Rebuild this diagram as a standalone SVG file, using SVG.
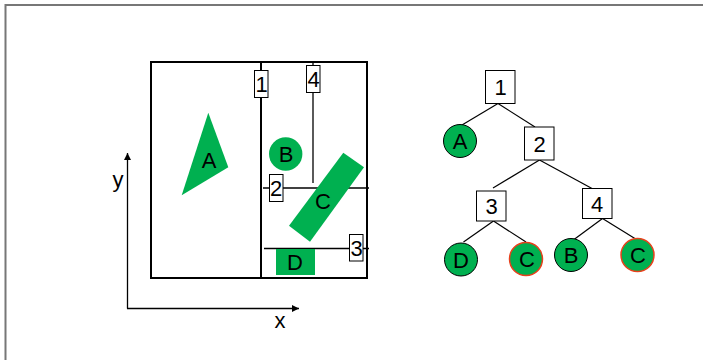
<svg xmlns="http://www.w3.org/2000/svg" width="703" height="360" viewBox="0 0 703 360">
<defs>
<style>
text{font-family:"Liberation Sans",Arial,sans-serif;font-size:22px;fill:#000;text-anchor:middle}
.g{fill:#00b050}
.thick{stroke:#000;stroke-width:2;fill:none}
.thin{stroke:#000;stroke-width:1.3;fill:none}
.lbl{fill:#fff;stroke:#000;stroke-width:1}
.node{fill:#fff;stroke:#000;stroke-width:1}
.leaf{fill:#00b050;stroke:#000;stroke-width:1}
.leafr{fill:#00b050;stroke:#e8401c;stroke-width:1.5}
.edge{stroke:#000;stroke-width:1.2}
</style>
<marker id="ah" viewBox="0 0 10 10" refX="10" refY="5" markerWidth="7" markerHeight="7" markerUnits="userSpaceOnUse" orient="auto">
<path d="M0,0 L10,5 L0,10 z" fill="#000"/>
</marker>
</defs>
<rect x="0" y="0" width="703" height="360" fill="#fff"/>
<path d="M5.5,370 V5 H710" fill="none" stroke="#777" stroke-width="2"/>

<g id="axes">
<line x1="127.5" y1="308.5" x2="127.5" y2="153" class="thin" marker-end="url(#ah)"/>
<line x1="127" y1="308.5" x2="299" y2="308.5" class="thin" marker-end="url(#ah)"/>
<text x="118" y="187">y</text>
<text x="280" y="328">x</text>
</g>

<g id="space">
<rect x="151" y="62" width="216" height="216" class="thick"/>
<line x1="261" y1="62" x2="261" y2="278" class="thick"/>
<line x1="313" y1="62" x2="313" y2="183" class="thin"/>
<line x1="263" y1="188" x2="369" y2="188" class="thin"/>
<line x1="264" y1="248.5" x2="369" y2="248.5" class="thin"/>
</g>

<g id="shapeA">
<polygon points="208.3,112.7 228.3,167.3 181.7,195.3" class="g"/>
<text x="209" y="168">A</text>
</g>
<g id="shapeB">
<circle cx="285.7" cy="154" r="16.7" class="g"/>
<text x="286" y="162">B</text>
</g>
<g id="shapeC">
<polygon points="343.3,152.7 364,167.3 310,241.7 289,225.7" class="g"/>
<text x="323" y="209">C</text>
</g>
<g id="shapeD">
<rect x="276" y="249" width="39" height="26" class="g"/>
<text x="295" y="270">D</text>
</g>

<g id="split1">
<rect x="254.5" y="70.5" width="13.5" height="27" class="lbl"/>
<text x="261.5" y="92">1</text>
</g>
<g id="split4">
<rect x="306.5" y="65.5" width="13.5" height="27" class="lbl"/>
<text x="313.5" y="87">4</text>
</g>
<g id="split2">
<rect x="269.5" y="174.5" width="13.5" height="27" class="lbl"/>
<text x="276" y="196">2</text>
</g>
<g id="split3">
<rect x="349.5" y="234.5" width="13.5" height="26.5" class="lbl"/>
<text x="356.5" y="256">3</text>
</g>

<g id="connectors">
<line x1="498" y1="103.5" x2="462" y2="125" class="edge"/>
<line x1="498" y1="103.5" x2="535" y2="127" class="edge"/>
<line x1="539.5" y1="160" x2="493" y2="188" class="edge"/>
<line x1="539.5" y1="160" x2="592" y2="188.5" class="edge"/>
<line x1="493.5" y1="221" x2="463.5" y2="242" class="edge"/>
<line x1="493.5" y1="221" x2="526" y2="242" class="edge"/>
<line x1="602.5" y1="218.5" x2="574" y2="239.5" class="edge"/>
<line x1="602.5" y1="218.5" x2="636.5" y2="239.5" class="edge"/>
</g>

<g id="t1">
<rect x="485.5" y="70.5" width="29.5" height="33" class="node"/>
<text x="500.5" y="95">1</text>
</g>
<g id="t2">
<rect x="524.5" y="127" width="29.5" height="33" class="node"/>
<text x="539.5" y="151.5">2</text>
</g>
<g id="t3">
<rect x="476.5" y="191" width="29.5" height="30" class="node"/>
<text x="491.5" y="214">3</text>
</g>
<g id="t4">
<rect x="582.5" y="188.5" width="29.5" height="30" class="node"/>
<text x="597" y="211.5">4</text>
</g>
<g id="tA">
<circle cx="460" cy="141" r="16.5" class="leaf"/>
<text x="460" y="149">A</text>
</g>
<g id="tD">
<circle cx="461" cy="259.5" r="16.5" class="leaf"/>
<text x="461" y="267.5">D</text>
</g>
<g id="tC1">
<circle cx="526" cy="259" r="16.5" class="leafr"/>
<text x="527" y="267">C</text>
</g>
<g id="tB">
<circle cx="571" cy="255" r="16.5" class="leaf"/>
<text x="571" y="263">B</text>
</g>
<g id="tC2">
<circle cx="637.5" cy="255" r="16.5" class="leafr"/>
<text x="638" y="263">C</text>
</g>
</svg>
